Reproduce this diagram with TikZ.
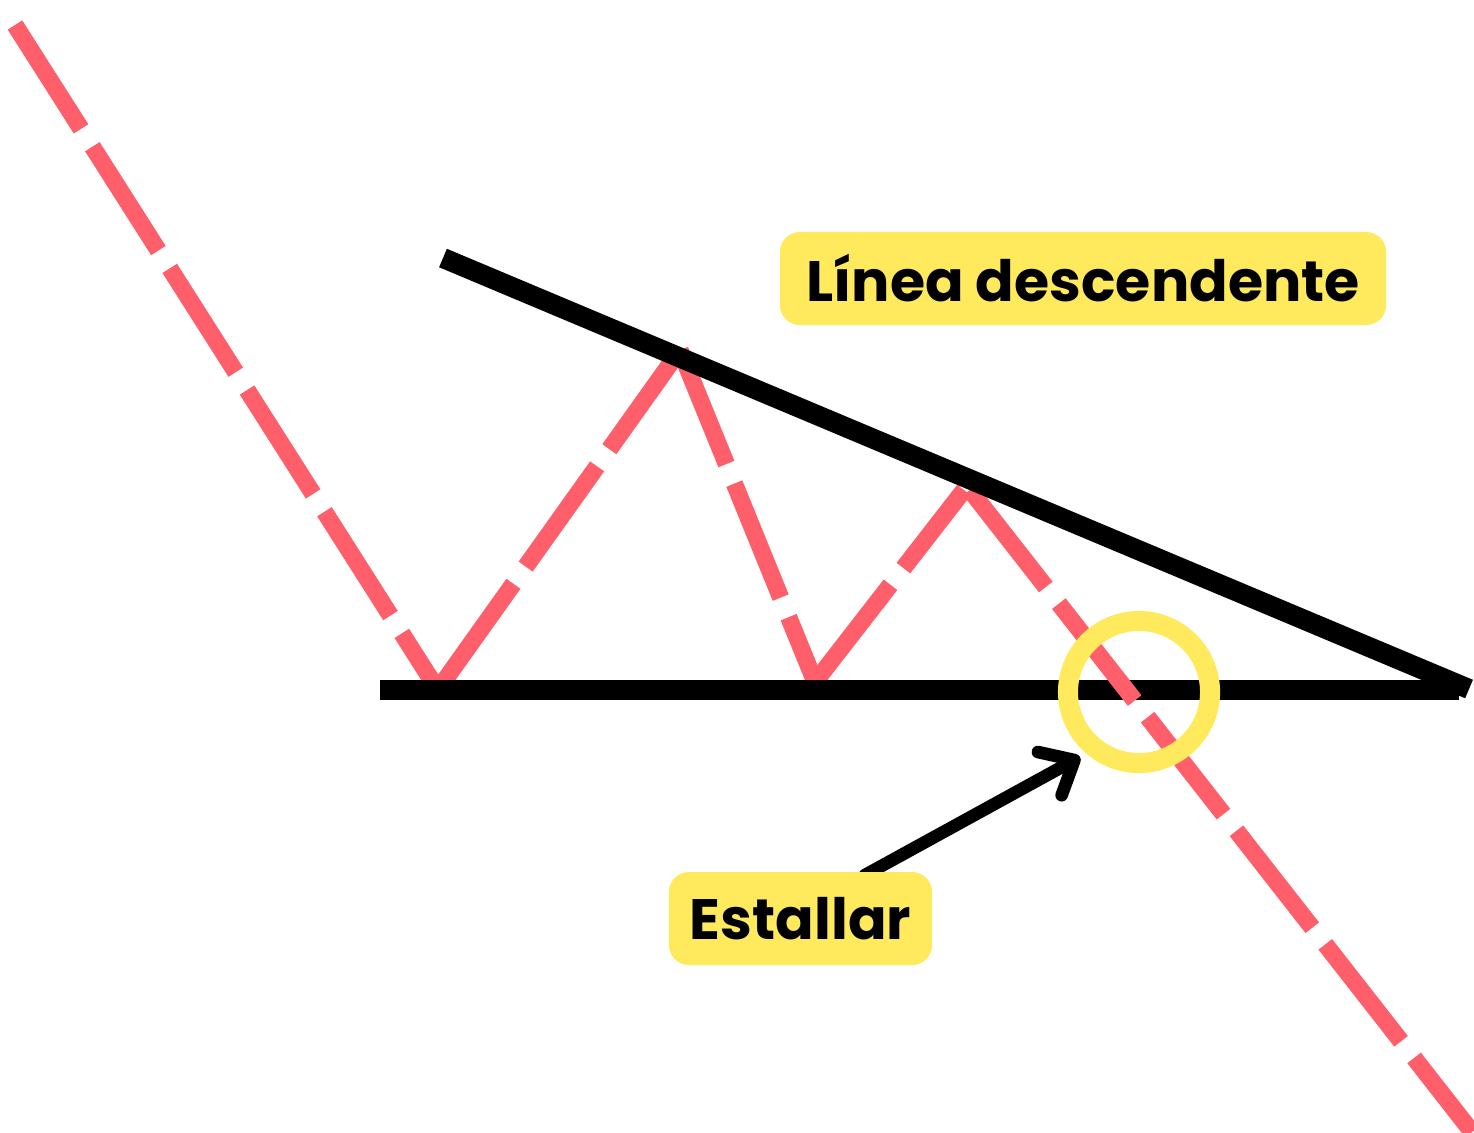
\documentclass[tikz,border=0pt]{standalone}
\usepackage{fontspec}
\newfontfamily\pop{Poppins}
\usetikzlibrary{arrows.meta}
\definecolor{redline}{RGB}{255,95,106}
\definecolor{yel}{RGB}{255,234,94}
\tikzset{
  reddash/.style={draw=redline, line width=4.9pt, dash pattern=on 35pt off 6pt},
  blackline/.style={draw=black, line width=5.7pt},
  label/.style={fill=yel, rounded corners=0.2cm, minimum height=0.93cm, inner sep=0pt,
    font=\pop\bfseries\fontsize{16.2}{19}\selectfont, text=black},
}
\begin{document}
\begin{tikzpicture}[x=0.01cm,y=-0.01cm]
\useasboundingbox (0,0) rectangle (1474,1132);
% coordinates of the price path
\coordinate (p0) at (15,25);
\coordinate (p1a) at (434,684);
\coordinate (p1b) at (442,684);
\coordinate (p2) at (680,350);
\coordinate (p3) at (815,682);
\coordinate (p4a) at (964,490);
\coordinate (p4b) at (970,490);
\coordinate (p5) at (1472,1132);
% support and resistance
\coordinate (h0) at (380,690);
\coordinate (h1) at (1459,690);
\coordinate (t0) at (443,258);
\coordinate (t1) at (1469,689);
% red path (except last leg)
\draw[reddash] (p0) -- (p1a);
\draw[reddash] (p1b) -- (p2);
\draw[reddash] (p2) -- (p3);
\draw[reddash] (p3) -- (p4a);
% horizontal support
\draw[blackline] (h0) -- (h1);
% last leg over support
\draw[reddash] (p4b) -- (p5);
% descending line
\draw[blackline] (t0) -- (t1);
% breakout circle
\node[circle, draw=yel, line width=5.7pt, minimum size=1.42cm, inner sep=0pt] (brk) at (1139,692) {};
% arrow
\coordinate (as) at (865,875);
\coordinate (ae) at (1080,757);
\draw[line width=3.6pt, line cap=round, -{Straight Barb[length=8pt, width=14pt, round]}] (as) -- (ae);
% labels
\node[label, minimum width=6.06cm] (lab1) at (1083,278.5) {Línea descendente};
\node[label, minimum width=2.63cm] (lab2) at (800.5,918.5) {Estallar};
\end{tikzpicture}
\end{document}
